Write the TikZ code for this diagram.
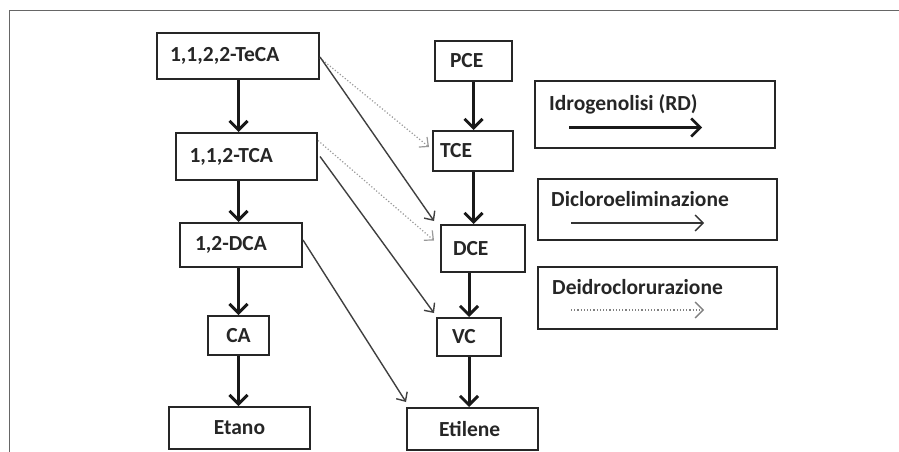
\documentclass[tikz,border=0pt]{standalone}
\usepackage{fontspec}
\setmainfont{Carlito}
\usetikzlibrary{arrows.meta}
\begin{document}
\begin{tikzpicture}[x=1pt,y=-1pt,
  box/.style={draw=black!85, line width=2pt, rectangle, inner ysep=0pt,
    font=\fontsize{21.5}{24}\selectfont\bfseries, text=black!85},
  legbox/.style={draw=black!85, line width=2pt, rectangle, inner sep=0pt},
  legtext/.style={anchor=west, inner sep=0pt, font=\fontsize{21.5}{24}\selectfont\bfseries, text=black!85},
  thick arrow/.style={line width=3pt, draw=black!90, -{Straight Barb[length=9pt,width=18pt,line width=3pt]}},
  thin arrow/.style={line width=1.4pt, draw=black!75, -{Straight Barb[length=7pt,width=13pt,line width=1.4pt]}},
  dot arrow/.style={line width=1.2pt, draw=black!40, dotted, -{Straight Barb[length=7pt,width=13pt,line width=1.2pt]}}
]
\useasboundingbox (0,0) rectangle (899,452);
% frame
\draw[black!60, line width=1pt] (899,11) -- (9,11) -- (9,452);

% left column
\node[box, minimum width=162pt, minimum height=46pt, text width=136pt, inner xsep=13pt, align=left] (teca) at (238,56) {1,1,2,2-TeCA};
\node[box, minimum width=141pt, minimum height=47pt, text width=114pt, inner xsep=13.5pt, align=left] (tca) at (246.5,156.5) {1,1,2-TCA};
\node[box, minimum width=122pt, minimum height=44pt, text width=92pt, inner xsep=15pt, align=left] (dca) at (241,245) {1,2-DCA};
\node[box, minimum width=61pt, minimum height=39pt, align=center] (ca) at (238.5,335.5) {CA};
\node[box, minimum width=141pt, minimum height=42pt, align=center] (etano) at (239.5,428) {Etano};

% right column
\node[box, minimum width=77pt, minimum height=40pt, text width=47pt, inner xsep=15pt, align=left] (pce) at (473.5,61) {PCE};
\node[box, minimum width=80pt, minimum height=40pt, text width=66pt, inner xsep=7pt, align=left] (tce) at (473,151) {TCE};
\node[box, minimum width=84pt, minimum height=47pt, text width=60pt, inner xsep=12pt, align=left] (dce) at (483,248.5) {DCE};
\node[box, minimum width=64pt, minimum height=38pt, text width=34pt, inner xsep=15pt, align=left] (vc) at (469,337) {VC};
\node[box, minimum width=131pt, minimum height=42pt, text width=67pt, inner xsep=32pt, align=left] (etilene) at (472.5,429) {Etilene};

% vertical thick arrows (left)
\draw[thick arrow] (ca.center |- teca.south) -- (ca.center |- tca.north);
\draw[thick arrow] (ca.center |- tca.south) -- (ca.center |- dca.north);
\draw[thick arrow] (ca.center |- dca.south) -- (ca.north);
\draw[thick arrow] (ca.south) -- (ca.center |- etano.north);
% vertical thick arrows (right)
\draw[thick arrow] (pce.south) -- (pce.center |- tce.north);
\draw[thick arrow] (pce.center |- tce.south) -- (pce.center |- dce.north);
\draw[thick arrow] (vc.center |- dce.south) -- (vc.north);
\draw[thick arrow] (vc.south) -- (vc.center |- etilene.north);

% diagonal arrows
\draw[dot arrow] ([yshift=-2pt]teca.east) -- ([xshift=-3pt,yshift=4pt]tce.west);
\draw[thin arrow] ([yshift=-1pt]teca.east) -- ([xshift=-6pt,yshift=3pt]dce.north west);
\draw[dot arrow] ([yshift=16pt]tca.east) -- ([xshift=-6pt,yshift=8pt]dce.west);
\draw[thin arrow] ([xshift=2pt]tca.east) -- ([xshift=-2pt,yshift=4pt]vc.north west);
\draw[thin arrow] ([yshift=5pt]dca.east) -- ([yshift=5pt]etilene.north west);

% legend
\node[legbox, minimum width=240pt, minimum height=67pt] (leg1) at (655,114.5) {};
\node[legtext] (leg1t) at ([xshift=15pt,yshift=10pt]leg1.west) {Idrogenolisi (RD)};
\coordinate (l1a) at ([xshift=35pt,yshift=-13pt]leg1.west);
\coordinate (l1b) at ([xshift=168pt,yshift=-13pt]leg1.west);
\draw[line width=3pt, black!90, -{Straight Barb[length=9pt,width=18pt,line width=2.5pt]}] (l1a) -- (l1b);

\node[legbox, minimum width=239pt, minimum height=61pt] (leg2) at (657.5,209.5) {};
\node[legtext] (leg2t) at ([xshift=14pt,yshift=10pt]leg2.west) {Dicloroeliminazione};
\coordinate (l2a) at ([xshift=34pt,yshift=-13.5pt]leg2.west);
\coordinate (l2b) at ([xshift=167pt,yshift=-13.5pt]leg2.west);
\draw[line width=1.4pt, black!80, -{Straight Barb[length=8pt,width=16pt,line width=1.4pt]}] (l2a) -- (l2b);

\node[legbox, minimum width=239pt, minimum height=62pt] (leg3) at (657.5,298) {};
\node[legtext] (leg3t) at ([xshift=15pt,yshift=11pt]leg3.west) {Deidroclorurazione};
\coordinate (l3a) at ([xshift=34pt,yshift=-12pt]leg3.west);
\coordinate (l3b) at ([xshift=167pt,yshift=-12pt]leg3.west);
\draw[line width=1.2pt, black!50, dotted, -{Straight Barb[length=8pt,width=16pt,line width=1.4pt]}] (l3a) -- (l3b);
\end{tikzpicture}
\end{document}
